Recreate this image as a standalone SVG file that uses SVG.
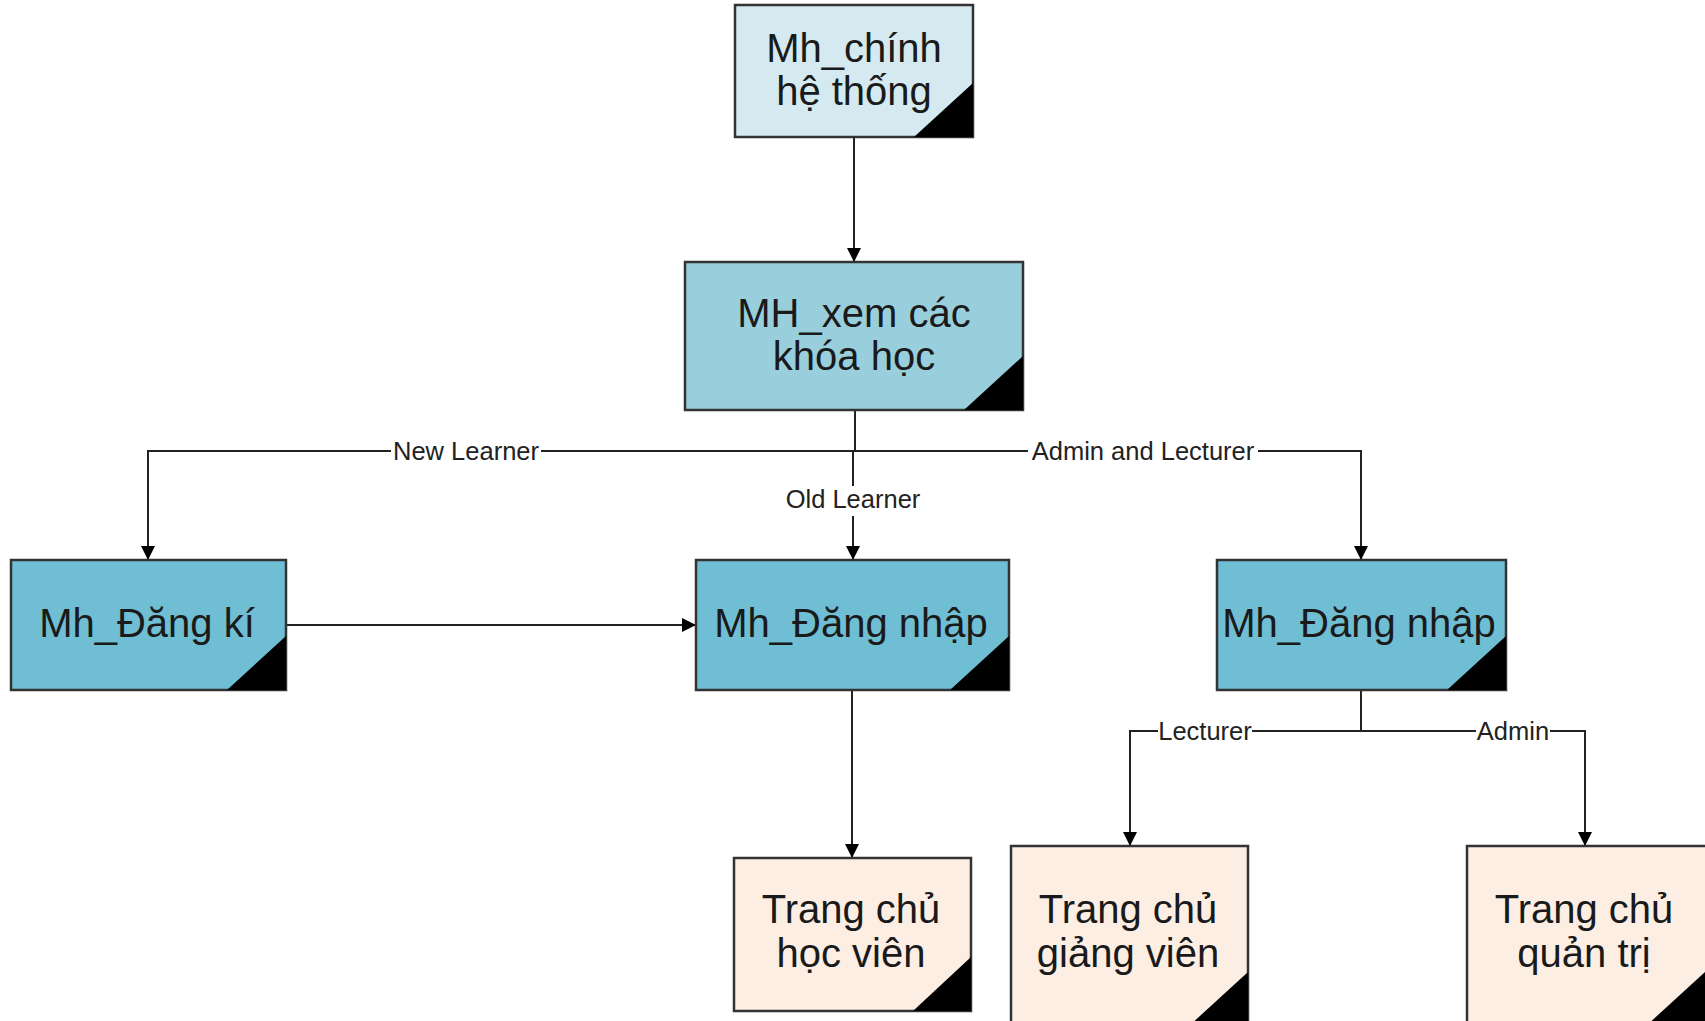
<svg xmlns="http://www.w3.org/2000/svg" width="1705" height="1021" viewBox="0 0 1705 1021">
<defs>
<style>
.box{stroke:#333;stroke-width:2.5}
.tri{fill:#000}
.nt{font-family:"Liberation Sans",Arial,sans-serif;font-size:40px;fill:#1a1a1a;text-anchor:middle}
.lt{font-family:"Liberation Sans",Arial,sans-serif;font-size:25.5px;fill:#222;text-anchor:middle}
.ln{fill:none;stroke:#222;stroke-width:2}
.bg{fill:#fff}
</style>
<marker id="ah" markerUnits="userSpaceOnUse" markerWidth="14" markerHeight="16" refX="14" refY="7" orient="auto">
<path d="M0,0 L14,7 L0,14 Z" fill="#000"/>
</marker>
</defs>
<rect width="1705" height="1021" fill="#fff"/>
<g id="connectors">
<path class="ln" d="M854,137 V262" marker-end="url(#ah)"/>
<path class="ln" d="M855,410 V451"/>
<path class="ln" d="M853,451 V560" marker-end="url(#ah)"/>
<path class="ln" d="M148,560 V451 H1361 V560" marker-end="url(#ah)"/>
<path class="ln" d="M148,451 V560" marker-end="url(#ah)"/>
<path class="ln" d="M286,625 H696" marker-end="url(#ah)"/>
<path class="ln" d="M852,690 V858" marker-end="url(#ah)"/>
<path class="ln" d="M1361,690 V731"/>
<path class="ln" d="M1130,846 V731 H1585 V846" marker-end="url(#ah)"/>
<path class="ln" d="M1130,731 V846" marker-end="url(#ah)"/>
<rect class="bg" x="391" y="438" width="150" height="26"/>
<text class="lt" x="466" y="460">New Learner</text>
<rect class="bg" x="1028" y="438" width="230" height="26"/>
<text class="lt" x="1143" y="460">Admin and Lecturer</text>
<rect class="bg" x="783" y="486" width="140" height="30"/>
<text class="lt" x="853" y="508">Old Learner</text>
<rect class="bg" x="1158" y="718" width="94" height="26"/>
<text class="lt" x="1205" y="740">Lecturer</text>
<rect class="bg" x="1476" y="718" width="74" height="26"/>
<text class="lt" x="1513" y="740">Admin</text>
</g>
<g id="n1">
<rect class="box" x="735" y="5" width="238" height="132" fill="#d4eaf0"/>
<polygon class="tri" points="914,137 973,83 973,137"/>
<text class="nt" x="854" y="62">Mh_chính</text>
<text class="nt" x="854" y="105">hệ thống</text>
</g>
<g id="n2">
<rect class="box" x="685" y="262" width="338" height="148" fill="#99cfdd"/>
<polygon class="tri" points="964,410 1023,356 1023,410"/>
<text class="nt" x="854" y="327">MH_xem các</text>
<text class="nt" x="854" y="370">khóa học</text>
</g>
<g id="n3">
<rect class="box" x="11" y="560" width="275" height="130" fill="#70bed3"/>
<polygon class="tri" points="227,690 286,636 286,690"/>
<text class="nt" x="147" y="637">Mh_Đăng kí</text>
</g>
<g id="n4">
<rect class="box" x="696" y="560" width="313" height="130" fill="#70bed3"/>
<polygon class="tri" points="950,690 1009,636 1009,690"/>
<text class="nt" x="851" y="637">Mh_Đăng nhập</text>
</g>
<g id="n5">
<rect class="box" x="1217" y="560" width="289" height="130" fill="#70bed3"/>
<polygon class="tri" points="1447,690 1506,636 1506,690"/>
<text class="nt" x="1359" y="637">Mh_Đăng nhập</text>
</g>
<g id="n6">
<rect class="box" x="734" y="858" width="237" height="153" fill="#fdeee4"/>
<polygon class="tri" points="913,1011 971,957 971,1011"/>
<text class="nt" x="851" y="923">Trang chủ</text>
<text class="nt" x="851" y="967">học viên</text>
</g>
<g id="n7">
<rect class="box" x="1011" y="846" width="237" height="180" fill="#fdeee4"/>
<polygon class="tri" points="1189,1026 1248,972 1248,1026"/>
<text class="nt" x="1128" y="923">Trang chủ</text>
<text class="nt" x="1128" y="967">giảng viên</text>
</g>
<g id="n8">
<rect class="box" x="1467" y="846" width="240" height="180" fill="#fdeee4"/>
<polygon class="tri" points="1646,1026 1705,972 1705,1026"/>
<text class="nt" x="1584" y="923">Trang chủ</text>
<text class="nt" x="1584" y="967">quản trị</text>
</g>
</svg>
